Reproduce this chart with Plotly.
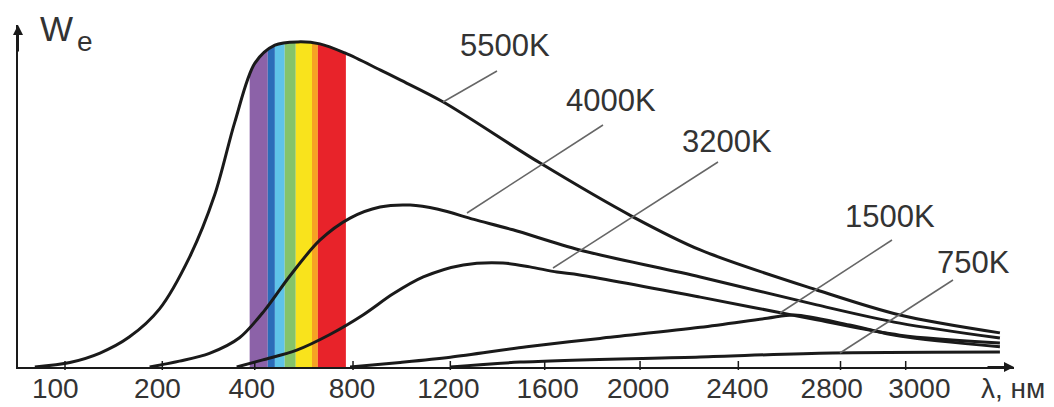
import numpy as np
import plotly.graph_objects as go

FIG_W, FIG_H = 1054, 407
PLOT_L, PLOT_R, PLOT_T, PLOT_B = 18, 1014, 25, 367   # plot-area box on the page

# Wavelength axis: labelled stations with uneven nm spacing
tick_nm = [100, 200, 400, 800, 1200, 1600, 2000, 2400, 2800, 3000]
tick_labels = ["100", "200", "400", "800", "1200", "1600", "2000", "2400", "2800", "3000"]
tick_pos = [0.0, 1.0, 1.95, 2.96, 3.96, 4.93, 5.91, 6.92, 7.97, 8.64]
# the printed numbers sit slightly off their tick marks at both ends
label_pos = [-0.10, 0.95, 1.92, 2.95, 3.94, 4.96, 5.89, 6.91, 7.88, 8.78]

# Spectral radiance curves, λ in nm, W_e in relative units (5500K peak = 100)
nm_5500 = [69, 105, 136, 166, 197, 259, 313, 357, 400, 482, 576, 665, 767, 911, 994,
           1171, 1579, 1970, 2245, 2707, 2982, 3289]
we_5500 = [0, 1.4, 4.3, 9.2, 17.8, 33.8, 52.8, 75.4, 93.4, 99, 100, 99.4, 96.6, 91.4, 88.3,
           81.5, 62.8, 46.2, 36, 23.7, 16, 10.5]

nm_4000 = [187, 237, 302, 367, 441, 543, 665, 788, 911, 1035, 1150, 1300, 1465, 1747,
           2245, 2707, 2982, 3289]
we_4000 = [0, 1.8, 4.2, 9, 17.5, 28, 39, 45.8, 49.2, 49.8, 48.5, 45.4, 42.2, 36,
           27.7, 19.1, 13.5, 8.9]

nm_3200 = [361, 433, 571, 706, 841, 965, 1089, 1255, 1423, 1537, 1651, 1747, 2245,
           2707, 2982, 3289]
we_3200 = [0, 2.2, 5.2, 10, 16, 22.5, 27.7, 31.4, 32, 30.8, 29.2, 28.3, 21.5,
           14.5, 9.8, 7.4]

nm_1500 = [788, 994, 1200, 1524, 1832, 2245, 2513, 2620, 2828, 2982, 3289]
we_1500 = [0, 1.4, 3.0, 6.2, 8.8, 12.2, 15, 16, 12.9, 9.5, 6.2]

nm_750 = [1200, 1495, 2245, 2769, 3289]
we_750 = [0, 1.5, 3.1, 4.3, 4.6]

# Visible spectrum bands (nm edges) and their colours
band_edges_nm = [389, 453, 482, 522, 567, 633, 657, 771]
band_colors = ["#8c62a8", "#2b6cb8", "#5fc3e8", "#85c36a", "#f9e31c", "#f6a323", "#e8232a"]

curve_labels = ["5500K", "4000K", "3200K", "1500K", "750K"]

Y_TOP = 105.2
X_MIN, X_MAX = -0.483, 9.753


def to_pos(nm):
    """Map wavelengths onto the uneven tick scale, extrapolating past both ends."""
    nm = np.asarray(nm, dtype=float)
    pos = np.interp(nm, tick_nm, tick_pos)
    lo_slope = (tick_pos[1] - tick_pos[0]) / (tick_nm[1] - tick_nm[0])
    hi_slope = (tick_pos[-1] - tick_pos[-2]) / (tick_nm[-1] - tick_nm[-2])
    pos = np.where(nm < tick_nm[0], tick_pos[0] + (nm - tick_nm[0]) * lo_slope, pos)
    pos = np.where(nm > tick_nm[-1], tick_pos[-1] + (nm - tick_nm[-1]) * hi_slope, pos)
    return pos


def at(px, py):
    """Page pixel -> paper coordinates of the plot area."""
    return (px - PLOT_L) / (PLOT_R - PLOT_L), (PLOT_B - py) / (PLOT_B - PLOT_T)


INK = "#1a1a1a"
TEXT = "#333333"
FONT = "Liberation Sans, Arial, sans-serif"

fig = go.Figure()

# 5500K outline used as the lower edge of a white mask that trims the spectrum bands
x55 = to_pos(nm_5500)
fig.add_trace(go.Scatter(x=x55, y=we_5500, mode="lines",
                         line=dict(width=0, shape="spline", smoothing=0.9),
                         hoverinfo="skip", showlegend=False))
fig.add_trace(go.Scatter(x=x55, y=[Y_TOP] * len(x55), mode="lines",
                         line=dict(width=0), fill="tonexty", fillcolor="white",
                         hoverinfo="skip", showlegend=False))

series = [(nm_5500, we_5500), (nm_4000, we_4000), (nm_3200, we_3200),
          (nm_1500, we_1500), (nm_750, we_750)]
for (nm, we), name in zip(series, curve_labels):
    fig.add_trace(go.Scatter(x=to_pos(nm), y=we, mode="lines", name=name,
                             line=dict(color=INK, width=3, shape="spline", smoothing=0.9),
                             showlegend=False))

shapes = []
band_x = to_pos(band_edges_nm)
for i, c in enumerate(band_colors):
    shapes.append(dict(type="rect", xref="x", yref="y", x0=band_x[i], x1=band_x[i + 1],
                       y0=0, y1=Y_TOP, fillcolor=c, line=dict(width=0), layer="below"))

# Tick marks crossing the wavelength axis
tick_up, tick_down = 6 / (PLOT_B - PLOT_T), 3 / (PLOT_B - PLOT_T)
for tp in tick_pos:
    shapes.append(dict(type="line", xref="x", yref="paper", x0=tp, x1=tp,
                       y0=-tick_down, y1=tick_up, line=dict(color=INK, width=1.5),
                       layer="above"))

# Label placements (text centre) and leader lines (from label to curve)
label_xy = [(505, 45), (611, 100), (727, 141), (890, 216), (973, 262)]
leaders = [((497, 71), (443, 102)), ((603, 125), (467, 213)), ((718, 162), (553, 268)),
           ((892, 240), (780, 313)), ((953, 280), (840, 353))]
for (p0, p1) in leaders:
    x0, y0 = at(*p0)
    x1, y1 = at(*p1)
    shapes.append(dict(type="line", xref="paper", yref="paper", x0=x0, y0=y0, x1=x1, y1=y1,
                       line=dict(color="#666666", width=1.5), layer="above"))

annotations = []
for txt, (px, py) in zip(curve_labels, label_xy):
    ax_, ay_ = at(px, py)
    annotations.append(dict(text=txt, x=ax_, y=ay_, xref="paper", yref="paper",
                            showarrow=False, xanchor="center", yanchor="middle",
                            font=dict(family=FONT, size=31, color=TEXT)))

# Axis arrowheads
annotations.append(dict(x=X_MIN, y=Y_TOP, xref="x", yref="y", ax=0, ay=28, text="",
                        showarrow=True, arrowhead=2, arrowsize=1, arrowwidth=2,
                        arrowcolor=INK))
annotations.append(dict(x=X_MAX, y=0, xref="x", yref="y", ax=-28, ay=0, text="",
                        showarrow=True, arrowhead=2, arrowsize=1, arrowwidth=2,
                        arrowcolor=INK))

# Axis titles
wx, wy = at(56, 28)
annotations.append(dict(text="W", x=wx, y=wy, xref="paper", yref="paper", showarrow=False,
                        xanchor="center", yanchor="middle",
                        font=dict(family=FONT, size=35, color=TEXT)))
ex, ey = at(85, 42)
annotations.append(dict(text="e", x=ex, y=ey, xref="paper", yref="paper", showarrow=False,
                        xanchor="center", yanchor="middle",
                        font=dict(family=FONT, size=28, color=TEXT)))
lx, ly = at(1013, 388)
annotations.append(dict(text="λ, нм", x=lx, y=ly, xref="paper", yref="paper",
                        showarrow=False, xanchor="center", yanchor="middle",
                        font=dict(family=FONT, size=28, color=TEXT)))

fig.update_layout(
    width=FIG_W, height=FIG_H,
    margin=dict(l=PLOT_L, r=FIG_W - PLOT_R, t=PLOT_T, b=FIG_H - PLOT_B, pad=0),
    paper_bgcolor="white", plot_bgcolor="white",
    shapes=shapes, annotations=annotations,
    xaxis=dict(range=[X_MIN, X_MAX], tickmode="array", tickvals=label_pos,
               ticktext=tick_labels, ticks="", showline=True, linecolor=INK, linewidth=2,
               showgrid=False, zeroline=False, ticklabelstandoff=-5, tickangle=0,
               automargin=False,
               tickfont=dict(family=FONT, size=28, color=TEXT)),
    yaxis=dict(range=[0, Y_TOP], showline=True, linecolor=INK, linewidth=2,
               showticklabels=False, ticks="", showgrid=False, zeroline=False,
               automargin=False),
)

fig.write_html("out.html")
